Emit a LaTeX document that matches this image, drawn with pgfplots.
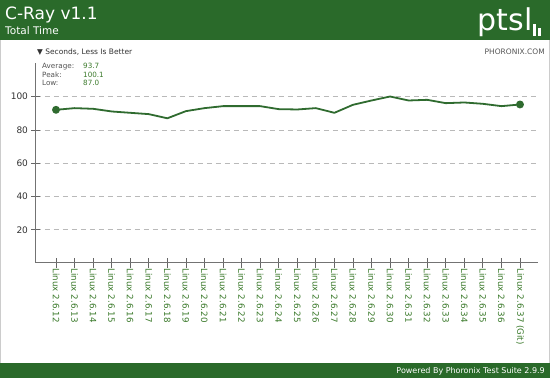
\documentclass[border=0pt]{standalone}
\usepackage{pgfplots}
\pgfplotsset{compat=1.18}
\usepackage{fontspec}
\setmainfont{DejaVu Sans}
\definecolor{hdr}{HTML}{2A6A2A}
\definecolor{linec}{HTML}{2F6B2F}
\definecolor{lblg}{HTML}{3B7A2B}
\definecolor{txtg}{HTML}{555555}
\begin{document}
\begin{tikzpicture}[x=1pt,y=1pt]
\useasboundingbox (0,0) rectangle (550,378);
\fill[white] (0,0) rectangle (550,378);
\draw[gray!40, line width=1pt] (0.5,0.5) rectangle (549.5,377.5);
\fill[hdr] (0,338) rectangle (550,378);
\fill[hdr] (0,0) rectangle (550,15);
\node[anchor=base west, text=white, font=\fontsize{17}{19}\selectfont, inner sep=0pt] at (5,358) {C-Ray v1.1};
\node[anchor=base west, text=white, font=\fontsize{10.5}{12}\selectfont, inner sep=0pt] at (5,343) {Total Time};
\node[anchor=base east, text=white, font=\fontsize{30}{32}\selectfont, inner sep=0pt] at (524,347) {pts};
\node[anchor=base west, text=white, font=\fontsize{30}{32}\selectfont, inner sep=0pt] at (524,347) {l};
\fill[white] (533,342) rectangle (536,354);
\fill[white] (538,342) rectangle (541,350);
\node[anchor=base west, text=black!80, font=\fontsize{7.5}{9}\selectfont, inner sep=0pt] at (37,323) {▼ Seconds, Less Is Better};
\node[anchor=base east, text=txtg, font=\fontsize{7.5}{9}\selectfont, inner sep=0pt] at (545,323) {PHORONIX.COM};
\node[anchor=base west, text=txtg, font=\fontsize{7.2}{8}\selectfont, inner sep=0pt] at (42,309) {Average:};
\node[anchor=base west, text=txtg, font=\fontsize{7.2}{8}\selectfont, inner sep=0pt] at (42,300.5) {Peak:};
\node[anchor=base west, text=txtg, font=\fontsize{7.2}{8}\selectfont, inner sep=0pt] at (42,292) {Low:};
\node[anchor=base west, text=lblg, font=\fontsize{7.2}{8}\selectfont, inner sep=0pt] at (83,309) {93.7};
\node[anchor=base west, text=lblg, font=\fontsize{7.2}{8}\selectfont, inner sep=0pt] at (83,300.5) {100.1};
\node[anchor=base west, text=lblg, font=\fontsize{7.2}{8}\selectfont, inner sep=0pt] at (83,292) {87.0};
\node[anchor=base east, text=white, font=\fontsize{8}{9}\selectfont, inner sep=0pt] at (545,4.5) {Powered By Phoronix Test Suite 2.9.9};
\begin{axis}[
  at={(56pt,115pt)}, anchor=origin,
  scale only axis, width=502pt, height=199.6pt,
  xmin=-1.078, xmax=25.97, ymin=0, ymax=120,
  axis x line*=bottom, axis y line*=left,
  axis line style={-, draw=black!55, line width=1pt},
  ytick={20,40,60,80,100},
  xtick={0,...,25},
  xticklabels={Linux 2.6.12,Linux 2.6.13,Linux 2.6.14,Linux 2.6.15,Linux 2.6.16,Linux 2.6.17,Linux 2.6.18,Linux 2.6.19,Linux 2.6.20,Linux 2.6.21,Linux 2.6.22,Linux 2.6.23,Linux 2.6.24,Linux 2.6.25,Linux 2.6.26,Linux 2.6.27,Linux 2.6.28,Linux 2.6.29,Linux 2.6.30,Linux 2.6.31,Linux 2.6.32,Linux 2.6.33,Linux 2.6.34,Linux 2.6.35,Linux 2.6.36,Linux 2.6.37 (Git)},
  x tick label style={rotate=-90, anchor=west, text=lblg, font=\fontsize{8.7}{10}\selectfont, inner sep=1pt},
  y tick label style={text=black!80, font=\fontsize{9}{10}\selectfont},
  /pgf/number format/assume math mode=true,
  tick align=center, major tick length=9pt,
  tick style={draw=black!60, line width=0.8pt},
  ymajorgrids, grid style={dashed, draw=gray!55, line width=0.8pt, dash pattern=on 5pt off 4pt},
  clip=false,
]
\addplot[color=linec, line width=1.8pt, mark=*, mark size=3pt, mark indices={1,26}, mark options={fill=linec, draw=linec}] coordinates {
(0,92.1) (1,93.1) (2,92.7) (3,91.1) (4,90.3) (5,89.5) (6,87.0) (7,91.3) (8,93.1) (9,94.3) (10,94.3) (11,94.3) (12,92.5) (13,92.3) (14,93.1) (15,90.3) (16,95.1) (17,97.7) (18,100.1) (19,97.7) (20,98.1) (21,96.1) (22,96.5) (23,95.7) (24,94.3) (25,95.3)
};
\end{axis}
\end{tikzpicture}
\end{document}
